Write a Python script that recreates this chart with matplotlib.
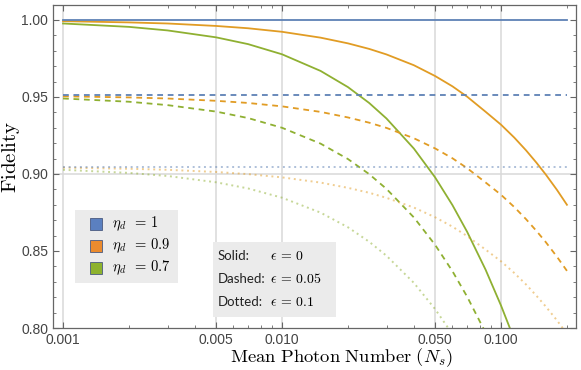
import matplotlib
matplotlib.use('Agg')
import matplotlib.pyplot as plt
import matplotlib.ticker as mticker
from matplotlib.patches import Rectangle

plt.rcParams['mathtext.fontset'] = 'cm'

# mean photon number samples
ns = [0.001, 0.002, 0.003, 0.005, 0.007, 0.01, 0.015, 0.02, 0.025, 0.03, 0.04,
      0.05, 0.06, 0.07, 0.085, 0.1, 0.115, 0.13, 0.145, 0.16, 0.18, 0.2]

# fidelity, solid: eps = 0
solid_eta1 = [1.0] * 22
solid_eta09 = [0.9992, 0.9984, 0.9977, 0.9961, 0.9946, 0.9923, 0.9885, 0.9848, 0.9812,
               0.9776, 0.9706, 0.9636, 0.9569, 0.9502, 0.9404, 0.9320, 0.9236, 0.9154,
               0.9074, 0.8997, 0.8897, 0.8800]
solid_eta07 = [0.9977, 0.9955, 0.9932, 0.9887, 0.9843, 0.9777, 0.9669, 0.9564, 0.9461,
               0.9360, 0.9165, 0.8978, 0.8798, 0.8625, 0.8379, 0.8146, 0.7926, 0.7718,
               0.7521, 0.7333, 0.7098, 0.6877]
# dashed: eps = 0.05
dashed_eta1 = [0.9512] * 22
dashed_eta09 = [0.9504, 0.9497, 0.9490, 0.9475, 0.9461, 0.9439, 0.9403, 0.9367, 0.9333,
                0.9299, 0.9232, 0.9166, 0.9102, 0.9038, 0.8945, 0.8865, 0.8785, 0.8707,
                0.8631, 0.8558, 0.8463, 0.8371]
dashed_eta07 = [0.9490, 0.9469, 0.9447, 0.9405, 0.9363, 0.9300, 0.9197, 0.9097, 0.8999,
                0.8903, 0.8718, 0.8540, 0.8369, 0.8204, 0.7970, 0.7749, 0.7539, 0.7341,
                0.7154, 0.6975, 0.6752, 0.6541]
# dotted: eps = 0.1
dotted_eta1 = [0.9048] * 22
dotted_eta09 = [0.9041, 0.9034, 0.9027, 0.9013, 0.8999, 0.8978, 0.8944, 0.8910, 0.8878,
                0.8845, 0.8782, 0.8719, 0.8658, 0.8597, 0.8509, 0.8433, 0.8357, 0.8283,
                0.8210, 0.8140, 0.8050, 0.7962]
dotted_eta07 = [0.9027, 0.9007, 0.8987, 0.8946, 0.8906, 0.8846, 0.8749, 0.8654, 0.8560,
                0.8469, 0.8293, 0.8123, 0.7960, 0.7804, 0.7581, 0.7371, 0.7172, 0.6983,
                0.6805, 0.6635, 0.6422, 0.6222]

eta_labels = [r'$\eta_d\ \,=\,1$', r'$\eta_d\ \,=\,0.9$', r'$\eta_d\ \,=\,0.7$']
style_words = ['Solid:', 'Dashed:', 'Dotted:']
eps_labels = [r'$\epsilon\,=\,0$', r'$\epsilon\,=\,0.05$', r'$\epsilon\,=\,0.1$']

x_major = [0.001, 0.005, 0.01, 0.05, 0.1]
x_major_labels = ['0.001', '0.005', '0.010', '0.050', '0.100']
y_major = [0.80, 0.85, 0.90, 0.95, 1.00]

colors = ['#5E81B5', '#E19C24', '#8FB032']
swatch_colors = ['#5B80C0', '#EB8B2E', '#8DB22E']

fig = plt.figure(figsize=(5.81, 3.70), dpi=100)
ax = fig.add_axes([53/581, 1-328/370, 523/581, 323/370])

for g in x_major:
    ax.axvline(g, color='#d9d9d9', lw=1.1, zorder=0)
ax.axhline(0.90, color='#d9d9d9', lw=1.1, zorder=0)

groups = [(solid_eta1, solid_eta09, solid_eta07),
          (dashed_eta1, dashed_eta09, dashed_eta07),
          (dotted_eta1, dotted_eta09, dotted_eta07)]
styles = ['-', (0, (3.2, 2.6)), (0, (1, 1.9))]
alphas = [1.0, 1.0, 0.5]
widths = [1.3, 1.3, 1.4]
for grp, ls, al, lw in zip(groups, styles, alphas, widths):
    for ys, c in zip(reversed(grp), reversed(colors)):
        ax.plot(ns, ys, color=c, ls=ls, lw=lw, alpha=al, zorder=2,
                solid_joinstyle='round')

ax.set_xscale('log')
ax.set_xlim(0.0009, 0.22)
ax.set_ylim(0.80, 1.0097)
ax.xaxis.set_major_locator(mticker.FixedLocator(x_major))
ax.xaxis.set_major_formatter(mticker.FixedFormatter(x_major_labels))
ax.xaxis.set_minor_locator(mticker.LogLocator(base=10, subs=(2, 3, 4, 6, 7, 8, 9)))
ax.xaxis.set_minor_formatter(mticker.NullFormatter())
ax.yaxis.set_major_locator(mticker.FixedLocator(y_major))
ax.yaxis.set_major_formatter(mticker.FormatStrFormatter('%.2f'))
ax.yaxis.set_minor_locator(mticker.MultipleLocator(0.01))

for s in ax.spines.values():
    s.set_color('#666666')
    s.set_linewidth(0.9)
ax.tick_params(which='both', direction='in', top=True, right=True, color='#666666')
ax.tick_params(which='major', length=4, width=0.8, pad=3.5, labelsize=10,
               labelcolor='#444444')
ax.tick_params(which='minor', length=2.5, width=0.6)
for lab in ax.get_xticklabels() + ax.get_yticklabels():
    lab.set_family('Liberation Sans')

# axis titles
fig.text(341/581, 1-362/370, r'$\mathrm{Mean\ Photon\ Number}\ (N_s)$',
         fontsize=13.4, ha='center', va='baseline')
fig.text(11/581, 1-157/370, r'$\mathrm{Fidelity}$', fontsize=15,
         rotation=90, ha='center', va='center')

# legend for detector efficiency
fig.patches.append(Rectangle((75/581, 1-283/370), 103/581, 73/370,
                             transform=fig.transFigure, facecolor='#ebebeb',
                             edgecolor='none', zorder=3))
for i, (lab, sc) in enumerate(zip(eta_labels, swatch_colors)):
    yc = 223.5 + 22*i
    fig.patches.append(Rectangle((90/581, 1-(yc+6)/370), 12/581, 12/370,
                                 transform=fig.transFigure, facecolor=sc,
                                 edgecolor='#4a5a80', lw=0.6, zorder=4))
    fig.text(112/581, 1-yc/370, lab, fontsize=10.5, va='center', ha='left', zorder=5)

# legend for line styles
fig.patches.append(Rectangle((213/581, 1-317/370), 123/581, 75/370,
                             transform=fig.transFigure, facecolor='#ebebeb',
                             edgecolor='none', zorder=3))
for i, (w, e) in enumerate(zip(style_words, eps_labels)):
    yc = 256.5 + 22.5*i
    fig.text(218/581, 1-yc/370, w, fontsize=9.5, family='Lato', va='center',
             ha='left', color='#222222', zorder=5)
    fig.text(270/581, 1-yc/370, e, fontsize=10, va='center', ha='left', zorder=5)

fig.savefig('out.png', dpi=100)
